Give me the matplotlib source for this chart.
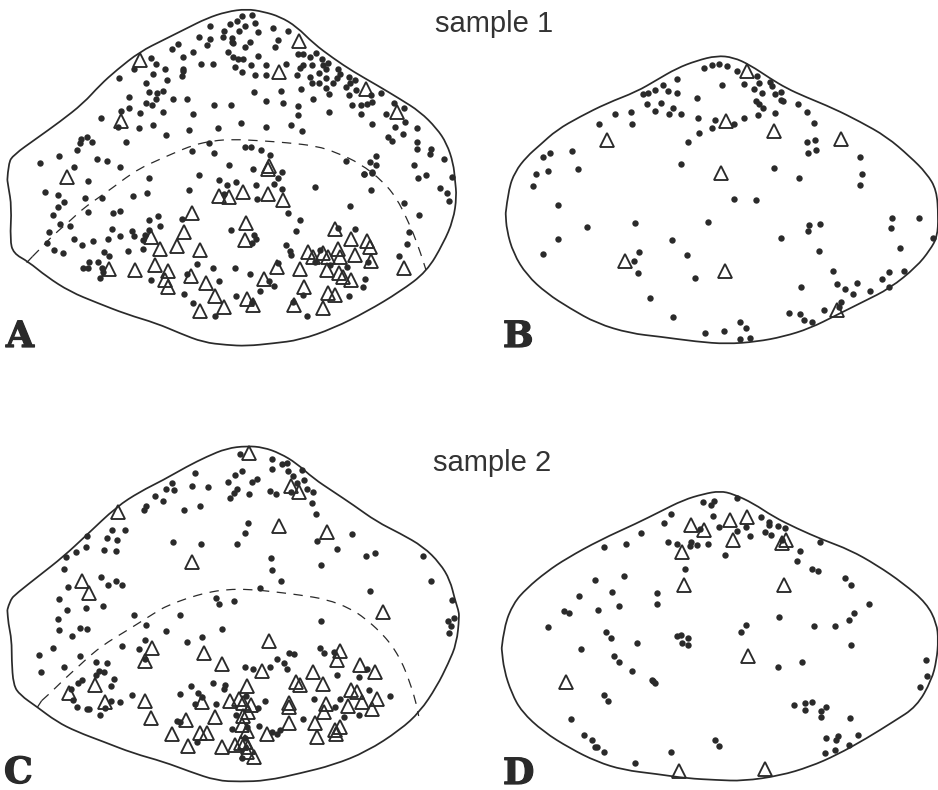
import numpy as np
import matplotlib
matplotlib.use("Agg")
import matplotlib.pyplot as plt
import matplotlib.patheffects as pe
from matplotlib.path import Path
from matplotlib.patches import PathPatch

# All readings are in 3x units of the picture, each list with its own origin
A_top_dots = [(756,45),(725,49),(710,64),(689,71),(735,77),(765,70),(629,79),(672,92),(717,92),(775,97),(820,85),(864,93),(670,110),(695,115),(700,130),(697,125),(596,110),(630,116),(622,136),(533,133),(517,148),(750,125),(735,140),(833,120),(824,140),(683,157),(699,171),(715,177),(728,177),(773,169),(578,157),(550,171),(603,193),(640,192),(752,195),(799,195),(857,192),(705,202),(726,217),(764,225),(797,225),(893,163),(908,163),(930,170),(947,160),(966,177),(985,190),(970,195),(977,208),(910,195),(900,205),(890,225),(936,195),(958,218),(931,230),(978,233),(1015,207),(1020,222),(1010,235),(1000,250),(935,250),(958,250),(977,265),(988,281),(1047,232),(1065,240),(1050,250),(1037,262),(1068,270),(1048,285),(1112,285),(1143,280),(1115,305),(1100,312),(1082,315),(1056,316),(1083,343),(1183,310),(1213,324),(1158,343),(1215,365),(1186,380),(1250,384),(1115,372),(1210,403),(1165,412),(1175,422),(1250,425),(1250,447),(1292,447),(1290,463),(1333,477),(1243,495),(1127,468),(1110,485),(1127,495),(1092,522),(1117,516),(1037,483),(453,173),(468,192),(495,208),(458,222),(401,208),(356,235),(500,240),(438,250),(488,272),(470,280),(447,275),(468,298),(388,291),(518,296),(561,297),(437,310),(457,315),(388,324),(362,332),(419,338),(488,337),(303,355),(578,343),(416,383),(458,376),(353,380),(497,406),(567,389),(653,383),(643,315),(692,314),(723,370),(798,381),(873,375),(906,393),(895,345),(893,318),(849,310),(799,304),(843,273),(761,275),(904,268),(938,297),(988,335),(548,212),(545,227),(550,208),(379,425),(260,410),(242,417),(240,428),(276,425),(231,449),(178,469),(119,489),(292,476),(320,482),(221,502),(360,500),(576,454),(628,430),(641,458),(735,440),(752,440),(784,451),(809,466),(688,494),(760,508)]
A_low_dots = [(265,34),(448,23),(598,14),(658,31),(680,45),(708,35),(769,46),(822,43),(835,25),(845,57),(847,6),(1092,13),(1117,8),(1254,25),(1277,14),(1355,20),(945,51),(1113,61),(567,59),(136,65),(174,75),(255,84),(306,83),(399,79),(442,68),(193,97),(174,110),(159,134),(265,125),(338,130),(361,123),(473,137),(448,150),(481,168),(547,147),(181,163),(211,168),(147,185),(335,176),(221,207),(279,213),(325,208),(360,198),(397,184),(401,198),(446,180),(435,195),(428,210),(246,226),(140,220),(161,240),(190,248),(313,245),(327,257),(383,244),(428,238),(267,275),(293,277),(248,293),(264,293),(306,295),(310,305),(299,324),(454,330),(590,282),(640,294),(706,294),(751,312),(658,334),(561,313),(553,373),(580,399),(646,439),(709,379),(779,362),(808,332),(823,348),(833,278),(865,130),(901,149),(887,182),(859,225),(870,243),(872,256),(693,179),(770,86),(671,72),(762,195),(767,208),(757,218),(1212,98),(1258,134),(1049,107),(1320,53),(1340,68),(1346,92),(1227,185),(1222,221),(1196,258),(1013,174),(1066,176),(960,240),(945,275),(990,285),(1040,290),(1105,275),(1094,326),(1090,351),(1047,379),(910,375),(880,397),(922,439),(757,395)]
A_top_tris = [(421,180),(897,122),(836,215),(1097,268),(1191,337),(364,362),(808,497),(805,508)]
A_low_tris = [(200,22),(656,78),(688,80),(730,65),(805,72),(848,90),(576,128),(552,186),(531,228),(480,238),(452,200),(739,158),(736,211),(601,241),(464,284),(406,301),(328,297),(505,302),(572,317),(494,331),(504,351),(617,338),(644,378),(672,412),(600,424),(742,387),(759,405),(793,327),(832,292),(899,296),(912,350),(881,405),(969,413),(985,368),(1005,376),(1053,331),(1030,322),(1018,310),(981,300),(923,247),(940,262),(970,250),(985,262),(1015,237),(1020,262),(1004,178),(1053,207),(1101,212),(1109,232),(1064,254),(1113,274),(1213,293)]
A_outline = [(22,540),(25,490),(40,465),(110,415),(180,365),(250,310),(300,255),(350,210),(420,155),(490,120),(560,85),(620,55),(680,35),(740,27),(790,35),(840,50),(890,80),(940,130),(1000,175),(1060,215),(1130,255),(1200,297),(1260,335),(1310,385),(1340,430),(1360,490),(1365,540),(1370,590),(1360,660),(1330,730),(1280,815),(1200,875),(1100,935),(1000,985),(900,1020),(820,1030),(740,1038),(680,1035),(610,1027),(540,1000),(470,970),(380,943),(290,908),(210,875),(140,830),(85,785),(40,760),(30,720),(35,620),(25,560),(22,540)]
A_boundary = [(97,770),(120,747),(160,705),(215,658),(250,625),(300,590),(345,558),(375,535),(420,505),(470,482),(520,460),(580,435),(640,422),(700,418),(780,422),(860,428),(950,438),(1010,458),(1080,490),(1150,545),(1190,595),(1220,655),(1240,700),(1262,760),(1278,810)]
A_tick = [(80,788),(97,770)]

C_top_dots = [(721,41),(815,57),(845,72),(860,70),(817,86),(863,93),(905,90),(726,93),(705,105),(683,125),(757,125),(770,117),(585,98),(515,129),(499,148),(521,150),(577,138),(625,140),(712,147),(702,160),(690,175),(747,163),(809,152),(829,161),(880,108),(912,120),(890,130),(920,147),(938,155),(873,157),(935,189),(948,223),(466,168),(489,184),(437,197),(433,210),(553,209),(600,197),(743,250),(736,279),(711,313),(518,306),(603,312),(1056,281),(952,302),(1010,328),(1125,338),(1099,348),(1268,348),(964,375),(813,353),(815,391),(844,423),(780,443),(1292,423),(1110,454),(1355,480),(375,269),(336,270),(262,288),(322,294),(352,300),(259,322),(311,330),(349,332),(228,337),(199,352),(193,386),(302,412),(325,435),(349,423),(367,436),(204,441),(178,477),(648,473),(656,491),(703,482),(201,510),(258,505),(310,498)]
C_low_dots = [(403,15),(541,15),(175,28),(178,59),(240,54),(260,57),(216,79),(439,45),(498,63),(665,57),(607,80),(562,95),(436,89),(365,107),(416,118),(159,115),(116,134),(241,139),(963,34),(1345,32),(1362,24),(1354,47),(1348,70),(960,113),(972,130),(1002,127),(288,157),(321,159),(191,170),(124,186),(298,182),(288,195),(312,187),(341,206),(334,227),(245,210),(235,220),(212,238),(220,270),(232,291),(262,296),(268,296),(316,294),(333,272),(360,275),(300,316),(397,254),(539,251),(573,228),(638,218),(676,225),(673,238),(594,249),(605,262),(584,282),(649,283),(531,333),(540,337),(591,396),(867,128),(883,133),(831,147),(852,160),(861,176),(809,172),(760,178),(736,172),(795,273),(739,258),(773,295),(707,316),(776,347),(697,356),(742,350),(815,365),(830,373),(840,360),(908,326),(943,266),(1004,290),(1020,267),(1011,195),(1077,201),(1100,178),(1107,241),(1171,259),(1077,314),(1032,322),(725,443),(435,147),(735,385)]
C_top_tris = [(748,38),(872,138),(896,155),(353,217),(838,258),(981,276),(577,367),(247,422),(268,460)]
C_low_tris = [(1148,5),(1020,122),(1010,150),(455,115),(436,152),(611,128),(807,93),(665,163),(785,182),(940,185),(968,222),(888,216),(900,225),(1080,166),(1126,186),(1054,240),(1072,245),(1130,266),(1085,275),(1045,288),(1116,296),(978,283),(972,305),(945,340),(950,380),(1020,350),(1005,360),(1008,372),(867,340),(868,280),(866,292),(800,372),(740,228),(690,274),(718,268),(730,280),(752,285),(745,305),(730,318),(725,345),(740,362),(735,395),(745,410),(742,425),(763,440),(722,400),(705,405),(667,411),(646,322),(557,330),(605,275),(434,272),(452,323),(515,373),(564,409),(600,368),(620,368),(314,276),(286,225),(207,250)]
C_outline = [(22,510),(30,480),(50,460),(120,405),(190,350),(260,285),(350,200),(420,155),(490,120),(560,80),(620,50),(680,25),(740,18),(790,22),(840,40),(890,70),(940,115),(1000,155),(1060,195),(1130,245),(1200,280),(1270,320),(1320,370),(1350,420),(1365,480),(1375,510),(1378,530),(1370,610),(1345,670),(1310,740),(1260,815),(1200,870),(1100,935),(1000,975),(900,1000),(800,1022),(720,1025),(650,1022),(570,995),(490,965),(400,940),(310,905),(230,875),(170,845),(110,800),(60,765),(40,735),(35,660),(35,600),(25,550),(22,510)]
C_boundary = [(125,782),(150,760),(190,720),(240,675),(280,638),(325,605),(370,578),(415,550),(470,515),(500,498),(560,475),(620,458),(680,448),(750,448),(820,455),(900,465),(980,478),(1050,505),(1095,535),(1140,575),(1175,615),(1205,665),(1225,715),(1245,775),(1256,828)]
C_tick = [(112,802),(125,782)]

B_dots = [(642,84),(666,74),(686,71),(712,77),(742,92),(802,108),(808,128),(840,125),(846,138),(762,131),(695,136),(793,148),(815,159),(856,162),(872,156),(873,181),(880,184),(560,116),(520,134),(494,150),(475,159),(460,162),(533,154),(561,160),(621,174),(471,193),(513,190),(550,204),(494,213),(536,222),(574,222),(797,184),(808,192),(818,204),(856,218),(803,226),(762,235),(925,193),(952,216),(973,249),(423,216),(375,222),(328,253),(426,253),(625,235),(674,239),(667,264),(733,253),(628,279),(593,305),(574,372),(950,307),(976,300),(977,330),(954,338),(1109,351),(1116,403),(1111,436),(852,385),(926,413),(180,339),(158,351),(246,334),(264,386),(175,393),(139,402),(130,438),(203,495),(290,560),(204,596),(158,642),(436,549),(654,546),(733,476),(798,481),(547,601),(592,645),(615,714),(446,637),(431,663),(444,699),(479,775),(550,831),(645,880),(703,873),(751,845),(769,864),(751,896),(780,893),(873,593),(956,556),(953,574),(989,553),(988,634),(1205,533),(1286,533),(1204,564),(1229,623),(1330,595),(1030,694),(1196,696),(1242,693),(1175,717),(1197,740),(1100,728),(1040,732),(1066,746),(1090,763),(1140,753),(933,741),(1052,785),(1003,810),(1047,800),(897,818),(931,821),(943,841),(967,847)]
B_tris = [(771,94),(709,243),(853,274),(1053,298),(352,301),(693,400),(404,662),(704,693),(1041,810)]
B_outline = [(47,520),(55,450),(75,395),(110,350),(150,315),(200,270),(270,230),(350,190),(440,155),(500,120),(560,85),(620,62),(680,47),(730,52),(780,75),(840,115),(890,145),(945,170),(1030,205),(1110,245),(1190,290),(1260,350),(1310,400),(1340,450),(1345,530),(1342,590),(1320,630),(1280,680),(1200,745),(1120,785),(1040,825),(960,865),(880,890),(800,905),(710,912),(620,905),(510,890),(420,880),(320,850),(240,805),(170,760),(110,705),(70,640),(50,570),(47,520)]

D_dots = [(640,66),(673,62),(663,75),(740,55),(544,103),(668,107),(521,129),(812,111),(836,125),(838,135),(863,137),(886,144),(686,142),(767,142),(740,154),(780,167),(826,155),(844,165),(630,147),(453,160),(341,201),(408,191),(534,187),(561,191),(604,186),(601,198),(622,195),(655,191),(706,225),(876,180),(989,185),(930,213),(922,243),(967,266),(985,274),(585,268),(1066,295),(1082,316),(403,288),(314,300),(367,336),(267,348),(500,339),(501,371),(386,378),(323,391),(222,394),(238,400),(175,441),(347,455),(362,475),(442,490),(274,507),(373,529),(388,545),(426,574),(486,600),(490,604),(495,608),(561,469),(572,466),(593,474),(576,489),(593,495),(769,436),(752,455),(868,412),(971,437),(1034,438),(1076,420),(1092,399),(1138,372),(1084,495),(935,547),(865,560),(1307,540),(1310,589),(1291,620),(341,645),(354,663),(243,717),(913,675),(945,669),(965,665),(945,691),(1009,681),(993,692),(993,711),(1079,714),(283,766),(307,779),(315,802),(322,802),(341,815),(436,849),(543,816),(675,781),(688,799),(1007,773),(1044,767),(1038,781),(1103,765),(1036,809),(1077,796),(1005,820)]
D_tris = [(604,135),(643,150),(720,120),(772,110),(730,180),(888,180),(876,190),(575,216),(582,315),(881,315),(773,528),(227,607),(567,872),(825,866)]
D_outline = [(35,505),(42,440),(70,370),(110,325),(170,275),(230,235),(330,180),(440,130),(510,95),(580,60),(640,42),(690,33),(730,42),(790,70),(850,110),(920,145),(1000,180),(1080,210),(1160,255),(1240,310),(1310,370),(1340,430),(1345,480),(1340,540),(1325,600),(1280,680),(1210,725),(1130,775),(1040,825),(960,860),(870,887),(760,903),(680,900),(590,895),(500,882),(400,870),(320,845),(240,805),(160,755),(95,695),(65,640),(42,570),(35,505)]

INK = "#2a2a2a"

def conv(points, ox, oy):
    a = np.array(points, dtype=float)
    return a[:, 0] / 3 + ox, a[:, 1] / 3 + oy

fig = plt.figure(figsize=(9.38, 7.90), dpi=100)
ax = fig.add_axes([0, 0, 1, 1])
ax.set_xlim(0, 938)
ax.set_ylim(790, 0)
ax.axis("off")

def curve(points, ox, oy, **kw):
    x, y = conv(points, ox, oy)
    p = np.column_stack([x, y])
    mids = (p[:-1] + p[1:]) / 2
    verts = [p[0]]
    codes = [Path.MOVETO]
    for i in range(1, len(p) - 1):
        verts += [p[i], mids[i]]
        codes += [Path.CURVE3, Path.CURVE3]
    verts.append(p[-1])
    codes.append(Path.LINETO)
    ax.add_patch(PathPatch(Path(verts, codes), fc="none", ec=INK, **kw))

def marks(dots, tris, ox, oy):
    x, y = conv(dots, ox, oy)
    ax.plot(x, y, ls="", marker="o", ms=4.6, mfc=INK, mec=INK, mew=0)
    x, y = conv(tris, ox, oy)
    ax.plot(x, y, ls="", marker="^", ms=10, mfc="none", mec=INK, mew=1.35)

# Panel A
curve(A_outline, 0, 0, lw=1.25)
curve(A_boundary, 0, 0, lw=0.9, ls=(0, (7.5, 6)))
curve(A_tick, 0, 0, lw=0.9)
marks(A_top_dots, A_top_tris, 0, 0)
marks(A_low_dots, A_low_tris, 0, 170)

# Panel B
curve(B_outline, 490, 40, lw=1.25)
marks(B_dots, B_tris, 490, 40)

# Panel C
curve(C_outline, 0, 440, lw=1.25)
curve(C_boundary, 0, 440, lw=0.9, ls=(0, (7.5, 6)))
curve(C_tick, 0, 440, lw=0.9)
marks(C_top_dots, C_top_tris, 0, 440)
marks(C_low_dots, C_low_tris, 0, 610)

# Panel D
curve(D_outline, 490, 480, lw=1.25)
marks(D_dots, D_tris, 490, 480)

sans = dict(family="Liberation Sans", color="#333333", fontsize=21, ha="center", va="baseline")
ax.text(494, 32, "sample 1", **sans)
ax.text(492, 471, "sample 2", **sans)

serif = dict(family="DejaVu Serif", weight="bold", color=INK, fontsize=26, ha="left", va="baseline",
             path_effects=[pe.withStroke(linewidth=0.9, foreground=INK)])
ax.text(6, 347, "A", **serif)
ax.text(503, 347, "B", **serif)
ax.text(4, 783, "C", **serif)
ax.text(503, 784, "D", **serif)

fig.savefig("out.png", dpi=100, facecolor="white")
